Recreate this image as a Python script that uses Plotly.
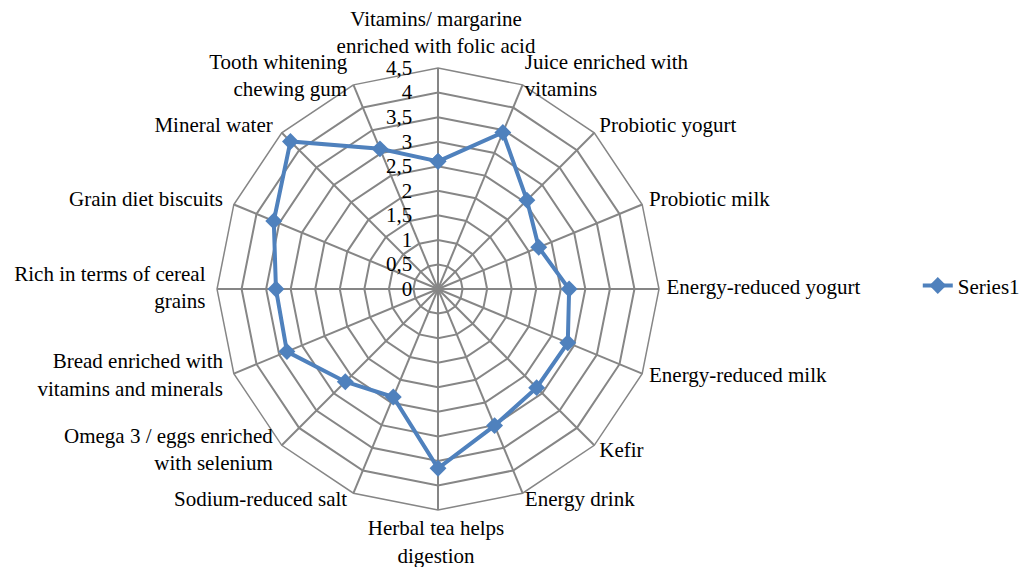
import plotly.graph_objects as go

categories = [
    "Vitamins/ margarine<br>enriched with folic acid",
    "Juice enriched with<br>vitamins",
    "Probiotic yogurt",
    "Probiotic milk",
    "Energy-reduced yogurt",
    "Energy-reduced milk",
    "Kefir",
    "Energy drink",
    "Herbal tea helps<br>digestion",
    "Sodium-reduced salt",
    "Omega 3 / eggs enriched<br>with selenium",
    "Bread enriched with<br>vitamins and minerals",
    "Rich in terms of cereal<br>grains",
    "Grain diet biscuits",
    "Mineral water",
    "Tooth whitening<br>chewing gum",
]
series1 = [2.6, 3.45, 2.56, 2.22, 2.67, 2.86, 2.84, 3.01, 3.65, 2.38, 2.67, 3.33, 3.30, 3.62, 4.25, 3.09]
radial_ticks = [0, 0.5, 1, 1.5, 2, 2.5, 3, 3.5, 4, 4.5]
radial_labels = ["0", "0,5", "1", "1,5", "2", "2,5", "3", "3,5", "4", "4,5"]

W, H = 1028, 567
blue = "#4F81BD"
grid = "#868686"
font_family = "Liberation Serif, Times New Roman, serif"
rmax = radial_ticks[-1]
n = len(categories)

# main polar area
dom_x = [0.2033, 0.6333]
dom_y = [0.1146, 0.8941]
# label ring: nearly the same centre, a few pixels further out
pad = 8.5
nudge = 2.0
lab_x = [dom_x[0] - (pad + nudge) / W, dom_x[1] + (pad - nudge) / W]
lab_y = [dom_y[0] - pad / H, dom_y[1] + pad / H]


def label_pos(i):
    if i == 0:
        return "top center"
    if i == n // 2:
        return "bottom center"
    return "middle right" if i < n // 2 else "middle left"


fig = go.Figure()
fig.add_trace(go.Scatterpolar(
    r=series1 + [series1[0]],
    theta=categories + [categories[0]],
    mode="lines+markers",
    name="Series1",
    line=dict(color=blue, width=4),
    marker=dict(symbol="diamond", size=13, color=blue),
))
# category labels on an invisible outer polar ring
fig.add_trace(go.Scatterpolar(
    r=[rmax] * n,
    theta=categories,
    subplot="polar2",
    mode="markers+text",
    text=categories,
    textposition=[label_pos(i) for i in range(n)],
    textfont=dict(size=21, color="black", family=font_family),
    marker=dict(size=0.01, opacity=0),
    cliponaxis=False,
    hoverinfo="skip",
    showlegend=False,
))

fig.update_layout(
    width=W, height=H,
    margin=dict(l=0, r=0, t=0, b=0),
    paper_bgcolor="white",
    font=dict(family=font_family, size=21, color="black"),
    polar=dict(
        domain=dict(x=dom_x, y=dom_y),
        bgcolor="white",
        gridshape="linear",
        angularaxis=dict(
            direction="clockwise", rotation=90,
            showline=True, linecolor=grid, linewidth=1.5,
            gridcolor=grid, gridwidth=1.5,
            ticks="", showticklabels=False,
        ),
        radialaxis=dict(
            range=[0, rmax], angle=90, tickangle=90,
            tickvals=radial_ticks, ticktext=radial_labels,
            side="counterclockwise",
            showline=False, ticks="outside", ticklen=18, tickcolor="rgba(0,0,0,0)",
            gridcolor=grid, gridwidth=1.5,
            tickfont=dict(size=21),
        ),
    ),
    polar2=dict(
        domain=dict(x=lab_x, y=lab_y),
        bgcolor="rgba(0,0,0,0)",
        gridshape="linear",
        angularaxis=dict(
            direction="clockwise", rotation=90,
            showline=False, showgrid=False, ticks="", showticklabels=False,
        ),
        radialaxis=dict(
            range=[0, rmax], visible=False,
        ),
    ),
    showlegend=True,
    legend=dict(x=0.885, y=0.51, xanchor="left", yanchor="middle",
                font=dict(size=21), bgcolor="rgba(0,0,0,0)"),
)

fig.write_html("out.html")
